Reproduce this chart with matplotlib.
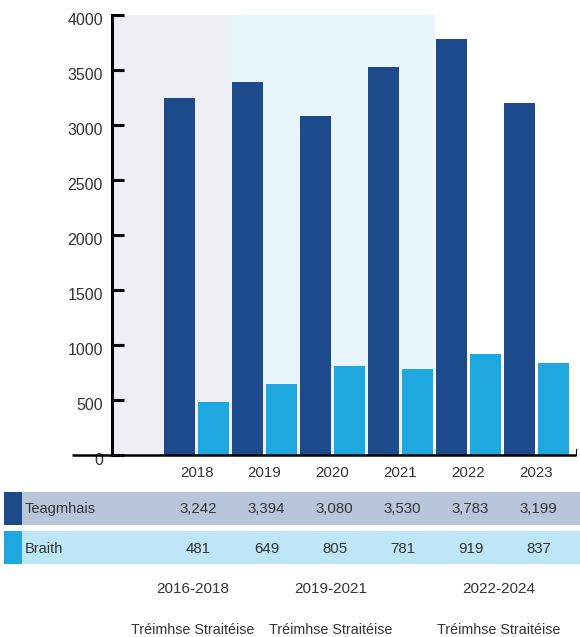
import matplotlib
matplotlib.use("Agg")
import matplotlib.pyplot as plt
import numpy as np
from matplotlib.patches import Rectangle
from matplotlib.lines import Line2D
from matplotlib.transforms import ScaledTranslation, blended_transform_factory

# Data
years = ["2018", "2019", "2020", "2021", "2022", "2023"]
teagmhais = [3242, 3394, 3080, 3530, 3783, 3199]
braith = [481, 649, 805, 781, 919, 837]
series_names = ["Teagmhais", "Braith"]
periods = ["2016-2018", "2019-2021", "2022-2024"]
period_caption = "Tréimhse Straitéise"
yticks = [0, 500, 1000, 1500, 2000, 2500, 3000, 3500, 4000]

DARK = "#1d4a8b"
LIGHT = "#1fa8e0"
BG_GRAY = "#eeeff4"
BG_BLUE = "#e8f5fc"
ROW1 = "#b8c6dc"
ROW2 = "#bde6f6"
TXT = "#333333"

plt.rcParams["font.family"] = ["Liberation Sans", "DejaVu Sans"]

W, H = 580, 637
fig = plt.figure(figsize=(W / 100, H / 100), dpi=100)


def fx(px):
    return px / W


def fy(py):
    return 1 - py / H


ax = fig.add_axes([fx(112), fy(455), fx(576) - fx(112), fy(15) - fy(455)])

x = np.arange(len(years))
bw = 0.456
xmin = -1.243
xmax = 5.581
ax.set_xlim(xmin, xmax)
ax.set_ylim(0, 4000)

# Strategic period shading
ax.axvspan(xmin, 0.522, color=BG_GRAY, zorder=0, lw=0)
ax.axvspan(0.522, 3.507, color=BG_BLUE, zorder=0, lw=0)

ax.bar(x - 0.25, teagmhais, width=bw, color=DARK, zorder=2)
ax.bar(x + 0.25, braith, width=bw, color=LIGHT, zorder=2)

for s in ["top", "right", "bottom"]:
    ax.spines[s].set_visible(False)
ax.spines["left"].set_linewidth(2.2)
ax.spines["left"].set_color("black")

ax.set_yticks(yticks)
ax.set_yticklabels([str(v) for v in yticks])
ax.tick_params(axis="y", direction="in", length=8.6, width=2.2, color="black",
               pad=6.5, labelsize=11.5, labelcolor=TXT)
ax.set_xticks([])
for lab in ax.get_yticklabels():
    lab.set_transform(lab.get_transform() +
                      ScaledTranslation(0, -4 / 100, fig.dpi_scale_trans))

# Baseline extending left of the axis
fig.add_artist(Line2D([fx(72), fx(576)], [fy(454.5), fy(454.5)],
                      color="black", lw=1.8, solid_capstyle="butt"))
fig.add_artist(Line2D([fx(576), fx(576)], [fy(454.5), fy(449)],
                      color="black", lw=0.8))

tr = blended_transform_factory(ax.transData, fig.transFigure)

# Year labels
for i, y in enumerate(years):
    ax.text(i, fy(476.7), y, transform=tr, ha="center", va="baseline",
            fontsize=10.8, color=TXT, clip_on=False)

# Data table rows
rows = [(teagmhais, DARK, ROW1, 492, 525, 512.7),
        (braith, LIGHT, ROW2, 531, 564, 553)]
for (vals, sw, bg, top, bot, base), name in zip(rows, series_names):
    fig.add_artist(Rectangle((fx(22), fy(bot)), fx(580) - fx(22), fy(top) - fy(bot),
                             transform=fig.transFigure, color=bg, lw=0, zorder=-2))
    fig.add_artist(Rectangle((fx(4), fy(bot)), fx(22) - fx(4), fy(top) - fy(bot),
                             transform=fig.transFigure, color=sw, lw=0, zorder=-2))
    fig.text(fx(25), fy(base), name, ha="left", va="baseline",
             fontsize=10.5, color=TXT)
    for i, v in enumerate(vals):
        ax.text(i + 0.03, fy(base), f"{v:,}", transform=tr, ha="center",
                va="baseline", fontsize=10.8, color=TXT, clip_on=False)

# Strategic periods
for pos, p in zip([-0.05, 1.98, 4.45], periods):
    ax.text(pos, fy(593), p, transform=tr, ha="center", va="baseline",
            fontsize=11, color=TXT, clip_on=False)
    ax.text(pos, fy(634), period_caption, transform=tr, ha="center",
            va="baseline", fontsize=10.3, color=TXT, clip_on=False)

fig.savefig("out.png", dpi=100)
